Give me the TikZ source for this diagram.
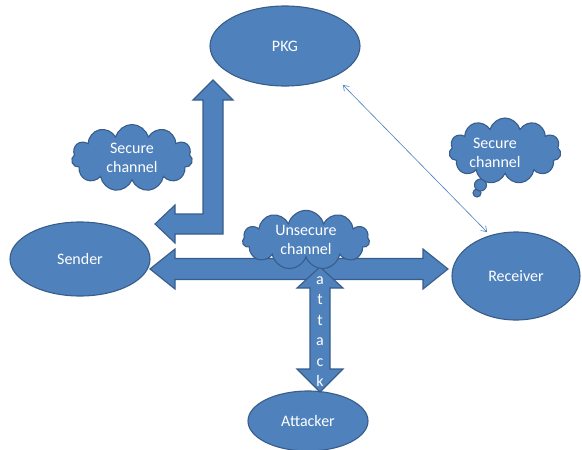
\documentclass[tikz,border=0pt]{standalone}
\usepackage{fontspec}
\setmainfont{Carlito}
\usetikzlibrary{shapes.geometric,shapes.symbols,arrows.meta}
\definecolor{fillb}{HTML}{4F81BD}
\definecolor{edgeb}{HTML}{385D8A}
\definecolor{thinb}{HTML}{4A7EBB}
\begin{document}
\begin{tikzpicture}[x=1pt,y=-1pt,
  txt/.style={text=white, font=\fontsize{16}{19.5}\selectfont, align=center, inner sep=0pt},
  blob/.style={txt, draw=edgeb, line width=1.1pt, fill=fillb},
  ell/.style={blob, ellipse},
  cloudy/.style={blob, cloud, cloud puffs=11, cloud ignores aspect},
  fat/.style={draw=edgeb, line width=1.1pt, fill=fillb, line join=miter}]
\useasboundingbox (0,0) rectangle (582,450);

% main nodes
\node[ell, minimum width=150pt, minimum height=80pt] (pkg) at (285,46) {PKG};
\node[ell, minimum width=140pt, minimum height=74pt] (sender) at (80,259) {Sender};
\node[ell, minimum width=128pt, minimum height=88pt] (receiver) at (516,276) {Receiver};
\node[ell, minimum width=120pt, minimum height=60pt] (attacker) at (308,421) {Attacker};

% bent arrow PKG <-> Sender (secure channel)
\path[fat] (155,224) -- (175,205) -- (175,214) -- (203,214) -- (203,100) -- (193,100)
  -- (213,80) -- (233,100) -- (223,100) -- (223,234) -- (175,234) -- (175,243) -- cycle;

% horizontal double arrow Sender <-> Receiver
\path[fat] (150,269) -- (175,249) -- (175,258.5) -- (423,258.5) -- (423,249) -- (448,269)
  -- (423,289) -- (423,279.5) -- (175,279.5) -- (175,289) -- cycle;

% vertical double arrow channel <-> Attacker
\path[fat] (320,267) -- (343,288) -- (330,288) -- (330,369) -- (343,369) -- (320,392)
  -- (297,369) -- (310,369) -- (310,288) -- (297,288) -- cycle;
\foreach \l/\yy [count=\i] in {a/279,t/299.5,t/320,a/340.5,c/361,k/381}
  \node[txt] (att\i) at (320,\yy) {\vphantom{t}\l};

% thin arrow PKG <-> Receiver
\coordinate (p1) at (343,85);
\coordinate (r1) at (487,232);
\draw[thinb, line width=0.6pt, {Straight Barb[length=5pt,width=7pt]}-{Straight Barb[length=5pt,width=7pt]}] (p1) -- (r1);

% clouds
\node[cloudy, minimum width=121pt, minimum height=67pt] (sc1) at (132,158) {Secure\\channel};
\node[cloudy, minimum width=127pt, minimum height=52pt] (usc) at (306,240) {Unsecure\\channel};
% thought-bubble tail
\draw[draw=edgeb, line width=1.1pt, fill=fillb] (477,193) circle[radius=4pt];
\draw[draw=edgeb, line width=1.1pt, fill=fillb] (480.5,185) circle[radius=6pt];
\node[cloudy, minimum width=112pt, minimum height=66pt] (sc2) at (505,151) {};
\node[txt] (sc2t) at (495,153) {Secure\\channel};
\end{tikzpicture}
\end{document}
